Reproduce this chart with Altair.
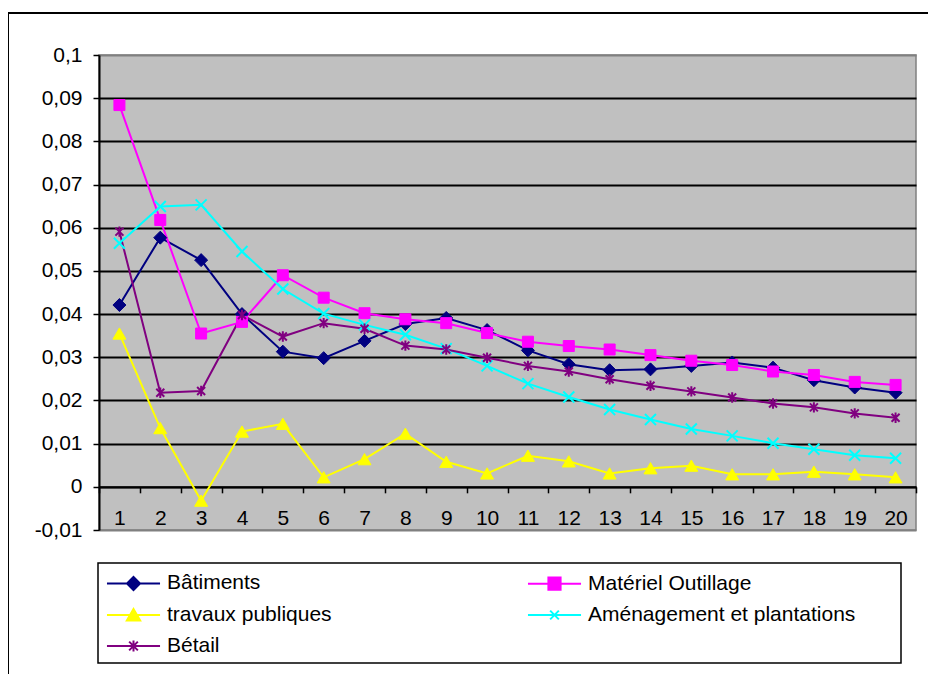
import altair as alt
import pandas as pd

PERIODS = list(range(1, 21))
SERIES = ["Bâtiments", "Matériel Outillage", "travaux publiques",
          "Aménagement et plantations", "Bétail"]

BATIMENTS = [0.0421, 0.0577, 0.0525, 0.0400, 0.0313, 0.0298, 0.0338, 0.0377, 0.0391, 0.0363,
             0.0316, 0.0284, 0.0270, 0.0272, 0.0280, 0.0288, 0.0276, 0.0247, 0.0230, 0.0218]
MATERIEL = [0.0884, 0.0618, 0.0355, 0.0382, 0.0490, 0.0438, 0.0402, 0.0388, 0.0379, 0.0356,
            0.0336, 0.0326, 0.0318, 0.0305, 0.0292, 0.0282, 0.0267, 0.0259, 0.0243, 0.0236]
TRAVAUX = [0.0355, 0.0136, -0.0032, 0.0128, 0.0146, 0.0022, 0.0064, 0.0123, 0.0058, 0.0031,
           0.0072, 0.0059, 0.0031, 0.0043, 0.0049, 0.0029, 0.0029, 0.0035, 0.0029, 0.0022]
AMENAGEMENT = [0.0564, 0.0649, 0.0653, 0.0545, 0.0458, 0.0401, 0.0375, 0.0352, 0.0320, 0.0280,
               0.0239, 0.0208, 0.0179, 0.0156, 0.0134, 0.0118, 0.0101, 0.0087, 0.0073, 0.0066]
BETAIL = [0.0591, 0.0218, 0.0222, 0.0398, 0.0348, 0.0379, 0.0366, 0.0327, 0.0318, 0.0299,
          0.0280, 0.0267, 0.0249, 0.0234, 0.0221, 0.0207, 0.0193, 0.0184, 0.0170, 0.0160]

Y_TICKS = [-0.01, 0, 0.01, 0.02, 0.03, 0.04, 0.05, 0.06, 0.07, 0.08, 0.09, 0.1]

# ---- styles ----
COLORS = ["#000080", "#FF00FF", "#FFFF00", "#00FFFF", "#800080"]
X_PATH = "M-1,-1L1,1M-1,1L1,-1"
STAR_PATH = "M-1,-1L1,1M-1,1L1,-1M0,-1.3V1.3"
MARK_SHAPES = ["diamond", "square", "triangle-up", X_PATH, STAR_PATH]
MARK_SIZES = [169, 121, 169, 121, 64]
MARK_STROKES = [1, 1, 1, 2, 2]
LEG_LINE = "M-1.83,0H1.83"
LEGEND_PATHS = [
    LEG_LINE + "M0,-0.45L0.45,0L0,0.45L-0.45,0Z",
    LEG_LINE + "M-0.42,-0.42H0.42V0.42H-0.42Z",
    LEG_LINE + "M0,-0.42L0.46,0.38H-0.46Z",
    LEG_LINE + "M-0.3,-0.3L0.3,0.3M-0.3,0.3L0.3,-0.3",
    LEG_LINE + "M-0.3,-0.3L0.3,0.3M-0.3,0.3L0.3,-0.3M0,-0.38V0.38",
]
FONT = "Liberation Sans"

rows = []
for i, (name, vals) in enumerate(zip(SERIES, [BATIMENTS, MATERIEL, TRAVAUX, AMENAGEMENT, BETAIL])):
    for p, v in zip(PERIODS, vals):
        rows.append({"periode": p, "series": name, "value": v, "col": COLORS[i],
                     "mshape": MARK_SHAPES[i], "msize": MARK_SIZES[i], "msw": MARK_STROKES[i]})
df = pd.DataFrame(rows)

W, H = 817, 475

x_enc = alt.X("periode:O",
              scale=alt.Scale(type="band", paddingInner=0, paddingOuter=0),
              axis=alt.Axis(title=None, offset=-H / 11, tickBand="extent", grid=False,
                            domainColor="black", domainWidth=2, tickColor="black",
                            tickWidth=1.5, tickSize=6, labelAngle=0, labelFont=FONT,
                            labelFontSize=21, labelColor="black", labelBaseline="middle",
                            labelPadding=26))
y_enc = alt.Y("value:Q",
              scale=alt.Scale(domain=[-0.01, 0.1], nice=False, zero=False),
              axis=alt.Axis(title=None, values=Y_TICKS,
                            labelExpr="replace(toString(round(datum.value*100)/100), '.', ',')",
                            grid=True,
                            gridColor={"condition": {"test": "datum.value > 0.095 || datum.value < -0.005",
                                                     "value": "#808080"},
                                       "value": "#000000"},
                            gridWidth=2, domainColor="black", domainWidth=2,
                            tickColor="black", tickWidth=1.5, tickSize=6,
                            labelFont=FONT, labelFontSize=21, labelColor="black",
                            labelPadding=11))

base = alt.Chart(df)

lines = base.mark_line(strokeWidth=2).encode(
    x=x_enc, y=y_enc,
    stroke=alt.Stroke("col:N", scale=None),
)

points = base.mark_point(filled=True, opacity=1).encode(
    x=x_enc, y=y_enc,
    shape=alt.Shape("mshape:N", scale=None),
    fill=alt.Fill("col:N", scale=None),
    stroke=alt.Stroke("col:N", scale=None),
    size=alt.Size("msize:Q", scale=None),
    strokeWidth=alt.StrokeWidth("msw:Q", scale=None),
)

leg = alt.Legend(title=None, orient="none", direction="horizontal", legendX=19, legendY=512.5,
                 columns=2, columnPadding=191, rowPadding=5, symbolSize=841,
                 symbolStrokeWidth=2, labelOffset=18, labelFont=FONT, labelFontSize=21,
                 labelColor="black", padding=0, labelLimit=0)

legend_layer = alt.Chart(pd.DataFrame({"series": SERIES})).mark_point(
    filled=True, opacity=1).encode(
    fill=alt.Fill("series:N", scale=alt.Scale(domain=SERIES, range=COLORS), legend=leg),
    stroke=alt.Stroke("series:N", scale=alt.Scale(domain=SERIES, range=COLORS), legend=leg),
    shape=alt.Shape("series:N", scale=alt.Scale(domain=SERIES, range=LEGEND_PATHS), legend=leg),
).transform_filter("false")

one = pd.DataFrame({"a": [0]})
legend_box = alt.Chart(one).mark_rect(fill="transparent", stroke="black", strokeWidth=1.5).encode(
    x=alt.value(-1), x2=alt.value(802), y=alt.value(508), y2=alt.value(608))
outer_box = alt.Chart(one).mark_rect(fill="transparent", stroke="black", strokeWidth=2).encode(
    x=alt.value(-91), x2=alt.value(860), y=alt.value(-42), y2=alt.value(660))

chart = alt.layer(outer_box, legend_box, lines, points, legend_layer).properties(
    width=W, height=H,
    padding={"left": 91, "top": 47, "right": 12, "bottom": 144},
    autosize=alt.AutoSizeParams(type="none"),
    background="white",
    view=alt.ViewBackground(fill="#C0C0C0", stroke="#808080", strokeWidth=1.5),
).configure_view(
    fill="#C0C0C0", stroke="#808080", strokeWidth=1.5
)

chart.save("out.html", embed_options={"renderer": "svg", "actions": False})
